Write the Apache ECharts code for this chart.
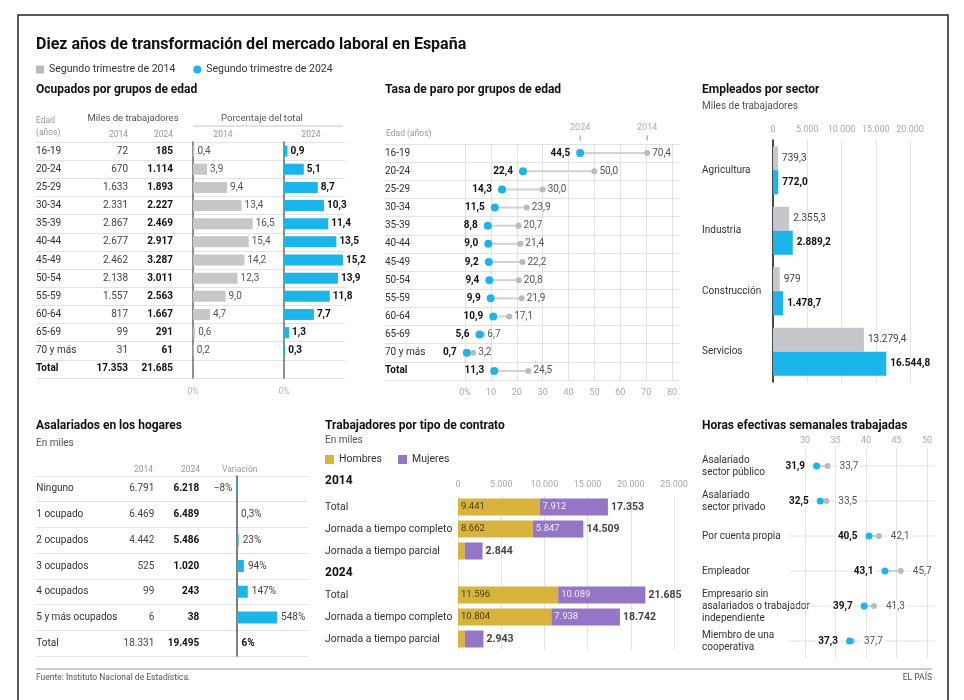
<!DOCTYPE html>
<html><head><meta charset="utf-8">
<script src="https://cdn.jsdelivr.net/npm/echarts@6/dist/echarts.min.js"></script>
<style>html,body{margin:0;padding:0;background:#fff}#c{width:964px;height:700px}</style>
</head><body><div id="c"></div>
<script>
// ---------- DATA ----------
const ageGroups = ['16-19','20-24','25-29','30-34','35-39','40-44','45-49','50-54','55-59','60-64','65-69','70 y más','Total'];
const ocupados2014 = [72,670,1633,2331,2867,2677,2462,2138,1557,817,99,31,17353];
const ocupados2024 = [185,1114,1893,2227,2469,2917,3287,3011,2563,1667,291,61,21685];
const pct2014 = [0.4,3.9,9.4,13.4,16.5,15.4,14.2,12.3,9.0,4.7,0.6,0.2,null];
const pct2024 = [0.9,5.1,8.7,10.3,11.4,13.5,15.2,13.9,11.8,7.7,1.3,0.3,null];
const paro2014 = [70.4,50.0,30.0,23.9,20.7,21.4,22.2,20.8,21.9,17.1,6.7,3.2,24.5];
const paro2024 = [44.5,22.4,14.3,11.5,8.8,9.0,9.2,9.4,9.9,10.9,5.6,0.7,11.3];
const yearLabels = ['2024','2014'];
const sectors = ['Agricultura','Industria','Construcción','Servicios'];
const sector2014 = [739.3,2355.3,979,13279.4];
const sector2024 = [772.0,2889.2,1478.7,16544.8];
const hogarCats = ['Ninguno','1 ocupado','2 ocupados','3 ocupados','4 ocupados','5 y más ocupados','Total'];
const hogar2014 = [6791,6469,4442,525,99,6,18331];
const hogar2024 = [6218,6489,5486,1020,243,38,19495];
const hogarVar = [-8,0.3,23,94,147,548,6];
const contratoRows = ['Total','Jornada a tiempo completo','Jornada a tiempo parcial','2024','Total','Jornada a tiempo completo','Jornada a tiempo parcial'];
const hombres = [9441,8662,779,null,11596,10804,792];
const mujeres = [7912,5847,2065,null,10089,7938,2151];
const horasCats = ['Asalariado\nsector público','Asalariado\nsector privado','Por cuenta propia','Empleador','Empresario sin\nasalariados o trabajador\nindependiente','Miembro de una\ncooperativa'];
const horas2014 = [33.7,33.5,42.1,45.7,41.3,37.7];
const horas2024 = [31.9,32.5,40.5,43.1,39.7,37.3];
const N14 = 'Segundo trimestre de 2014', N24 = 'Segundo trimestre de 2024';

// ---------- STYLE ----------
const F = 'Roboto, "Noto Sans", sans-serif';
const BLUE = '#1cb5e9', GRAY = '#c5c7cb', DOT14 = '#b9bbbf', YEL = '#d8b43c', PUR = '#9575c6';
const GRID_C = '#e3e3e3';

function fmt(v, dec) {
  dec = dec || 0;
  const neg = v < 0;
  let s = Math.abs(v).toFixed(dec);
  let parts = s.split('.');
  let i = parts[0].replace(/\B(?=(\d{3})+(?!\d))/g, '.');
  return (neg ? '−' : '') + i + (parts[1] ? ',' + parts[1] : '');
}

const grids = [], xA = [], yA = [], S = [];
const add = (arr, o) => (arr.push(o), arr.length - 1);

function valX(gi, min, max, o) {
  return Object.assign({gridIndex: gi, type: 'value', min, max, axisLine: {show: false}, axisTick: {show: false}, splitLine: {show: false}, axisLabel: {show: false}}, o || {});
}
function catY(gi, n, o) {
  return Object.assign({gridIndex: gi, type: 'category', inverse: true, data: Array.from({length: n}, (_, i) => 'r' + i),
    axisLine: {show: false, onZero: false}, axisTick: {show: false}, splitLine: {show: false}, axisLabel: {show: false}}, o || {});
}
function textY(gi, texts, margin, align, o) {
  o = o || {};
  const fs = o.fontSize || 10;
  return catY(gi, texts.length, {position: 'left', axisLabel: {show: true, interval: 0, margin, align, fontFamily: F, fontSize: fs,
    color: o.color || '#333', fontWeight: o.weight || 'normal', lineHeight: o.lineHeight || fs + 2,
    formatter: (v, i) => (o.bold && o.bold.includes(i)) ? '{b|' + texts[i] + '}' : texts[i],
    rich: {b: {fontWeight: 'bold', color: '#111', fontFamily: F, fontSize: o.boldSize || fs}}}});
}
function bgGrid(left, top, width, height, n) {
  const g = add(grids, {left, top, width, height});
  add(xA, valX(g, 0, 1));
  add(yA, catY(g, n, {splitLine: {show: true, lineStyle: {color: GRID_C, width: 1}}}));
}
const lbl = (o) => Object.assign({show: true, fontFamily: F, fontSize: 10}, o);

// ---------- PANEL 1: Ocupados por grupos de edad ----------
bgGrid(36, 142, 309, 236, 13);
const p1a = add(grids, {left: 193, top: 142, width: 72.4, height: 236});
const p1aX = add(xA, valX(p1a, 0, 20, {interval: 5, axisLabel: {show: true, formatter: v => v === 0 ? '0%' : '', color: '#b3b3b3', fontSize: 8.5, fontFamily: F, margin: 9}}));
const p1aY = add(yA, catY(p1a, 13, {axisLine: {show: true, onZero: false, lineStyle: {color: '#6a6a6a', width: 1.5}}}));
add(yA, textY(p1a, ageGroups, 157, 'left', {bold: [12]}));
add(yA, textY(p1a, ocupados2014.map(v => fmt(v)), 65, 'right', {color: '#444', bold: [12]}));
add(yA, textY(p1a, ocupados2024.map(v => fmt(v)), 20, 'right', {color: '#111', weight: 'bold'}));
S.push({type: 'bar', xAxisIndex: p1aX, yAxisIndex: p1aY, data: pct2014, barWidth: 11, itemStyle: {color: GRAY},
  label: lbl({position: 'right', distance: 3, color: '#555', formatter: p => fmt(p.value, 1)})});

const p1b = add(grids, {left: 284, top: 142, width: 77.6, height: 236});
const p1bX = add(xA, valX(p1b, 0, 20, {interval: 5, axisLabel: {show: true, formatter: v => v === 0 ? '0%' : '', color: '#b3b3b3', fontSize: 8.5, fontFamily: F, margin: 9}}));
const p1bY = add(yA, catY(p1b, 13, {axisLine: {show: true, onZero: false, lineStyle: {color: '#6a6a6a', width: 1.5}}}));
S.push({type: 'bar', xAxisIndex: p1bX, yAxisIndex: p1bY, data: pct2024, barWidth: 11, itemStyle: {color: BLUE},
  label: lbl({position: 'right', distance: 3, color: '#111', fontWeight: 'bold', formatter: p => fmt(p.value, 1)})});

// ---------- PANEL 2: Tasa de paro ----------
bgGrid(385, 144, 295, 236, 13);
const p2 = add(grids, {left: 465, top: 144, width: 207, height: 236});
const p2X = add(xA, valX(p2, 0, 80, {interval: 10, splitLine: {show: true, lineStyle: {color: GRID_C}},
  axisLabel: {show: true, formatter: v => v === 0 ? '0%' : String(v), color: '#aaa', fontSize: 9, fontFamily: F, margin: 8}}));
const p2Y = add(yA, textY(p2, ageGroups, 80, 'left', {bold: [12]}));
S.push({type: 'custom', xAxisIndex: p2X, yAxisIndex: p2Y, z: 2, silent: true,
  data: ageGroups.map((c, i) => [paro2024[i], paro2014[i], i]), encode: {x: [0, 1], y: 2},
  renderItem: (params, api) => {
    const i = api.value(2);
    const p = api.coord([api.value(0), i]), q = api.coord([api.value(1), i]);
    return {type: 'line', shape: {x1: p[0], y1: p[1], x2: q[0], y2: q[1]}, style: {stroke: '#d2d2d2', lineWidth: 2}};
  }});
S.push({name: N14, type: 'scatter', xAxisIndex: p2X, yAxisIndex: p2Y, z: 3, symbolSize: 6, itemStyle: {color: DOT14, opacity: 1},
  data: paro2014.map((v, i) => [v, i]), label: lbl({position: 'right', distance: 2, color: '#555', formatter: p => fmt(p.value[0], 1)})});
S.push({name: N24, type: 'scatter', xAxisIndex: p2X, yAxisIndex: p2Y, z: 4, symbolSize: 8, itemStyle: {color: BLUE, opacity: 1},
  data: paro2024.map((v, i) => [v, i]), label: lbl({position: 'left', distance: 6, color: '#111', fontWeight: 'bold', formatter: p => fmt(p.value[0], 1)})});
S.push({type: 'scatter', xAxisIndex: p2X, yAxisIndex: p2Y, z: 1, silent: true, symbol: 'rect', symbolSize: [1, 5], symbolOffset: [0, -15],
  itemStyle: {color: '#777'}, data: [[paro2024[0], 0], [paro2014[0], 0]],
  label: lbl({position: 'top', distance: 3, color: '#999', fontSize: 9, formatter: p => yearLabels[p.dataIndex]})});

// ---------- PANEL 3: Empleados por sector ----------
const p3 = add(grids, {left: 773, top: 140, width: 137, height: 242});
const p3X = add(xA, valX(p3, 0, 20000, {position: 'top', interval: 5000, splitLine: {show: true, lineStyle: {color: GRID_C}},
  axisLabel: {show: true, formatter: v => fmt(v), color: '#aaa', fontSize: 9, fontFamily: F, margin: 6}}));
const p3Y = add(yA, textY(p3, sectors, 71, 'left', {}));
yA[p3Y].axisLine = {show: true, onZero: false, lineStyle: {color: '#111', width: 1.5}};
S.push({name: N14, type: 'bar', xAxisIndex: p3X, yAxisIndex: p3Y, data: sector2014, barWidth: 24, barGap: '0%', itemStyle: {color: GRAY},
  label: lbl({position: 'right', distance: 4, color: '#444', formatter: p => fmt(p.value, p.value % 1 ? 1 : 0)})});
S.push({name: N24, type: 'bar', xAxisIndex: p3X, yAxisIndex: p3Y, data: sector2024, barWidth: 24, barGap: '0%', itemStyle: {color: BLUE},
  label: lbl({position: 'right', distance: 4, color: '#111', fontWeight: 'bold', formatter: p => fmt(p.value, 1)})});

// ---------- PANEL 4: Asalariados en los hogares ----------
bgGrid(36, 476, 272, 180, 7);
const p4 = add(grids, {left: 236.3, top: 476, width: 44.6, height: 180});
const p4X = add(xA, valX(p4, -10, 600));
const p4Y = add(yA, catY(p4, 7, {axisLine: {show: true, onZero: false, lineStyle: {color: '#555', width: 1.5}}}));
add(yA, textY(p4, hogarCats, 200, 'left'));
add(yA, textY(p4, hogar2014.map(v => fmt(v)), 82, 'right', {color: '#444'}));
add(yA, textY(p4, hogar2024.map(v => fmt(v)), 37, 'right', {color: '#111', weight: 'bold'}));
S.push({type: 'bar', xAxisIndex: p4X, yAxisIndex: p4Y, barWidth: 12, itemStyle: {color: BLUE},
  data: hogarVar.map((v, i) => ({value: v, label: {position: v < 0 ? 'left' : 'right', fontWeight: i === hogarVar.length - 1 ? 'bold' : 'normal', color: i === hogarVar.length - 1 ? '#111' : '#444'}})),
  label: lbl({distance: 4, formatter: p => fmt(p.value, p.value % 1 ? 1 : 0) + '%'})});

// ---------- PANEL 5: Trabajadores por tipo de contrato ----------
const p5 = add(grids, {left: 458, top: 496, width: 216, height: 154});
const p5X = add(xA, valX(p5, 0, 25000, {position: 'top', interval: 5000, splitLine: {show: true, lineStyle: {color: GRID_C}},
  axisLabel: {show: true, formatter: v => fmt(v), color: '#aaa', fontSize: 9, fontFamily: F, margin: 7}}));
const p5Y = add(yA, textY(p5, contratoRows, 133, 'left', {fontSize: 10.4, bold: [3], boldSize: 12}));
S.push({name: 'Hombres', type: 'bar', stack: 'c', xAxisIndex: p5X, yAxisIndex: p5Y, data: hombres, barWidth: 17, itemStyle: {color: YEL},
  label: lbl({position: 'insideLeft', distance: 3, fontSize: 9.5, color: '#4a3f12', formatter: p => p.value > 3000 ? fmt(p.value) : ''})});
S.push({name: 'Mujeres', type: 'bar', stack: 'c', xAxisIndex: p5X, yAxisIndex: p5Y, data: mujeres, barWidth: 17, itemStyle: {color: PUR},
  label: lbl({position: 'insideLeft', distance: 3, fontSize: 9.5, color: '#f1ecf8', formatter: p => p.value > 3000 ? fmt(p.value) : ''})});
S.push({type: 'scatter', xAxisIndex: p5X, yAxisIndex: p5Y, silent: true, symbolSize: 0.1, itemStyle: {color: 'rgba(0,0,0,0)'},
  data: hombres.map((h, i) => h == null ? null : [h + mujeres[i], i]).filter(d => d),
  label: lbl({position: 'right', distance: 3, color: '#111', fontWeight: 'bold', fontSize: 10.5, formatter: p => fmt(p.value[0])})});

// ---------- PANEL 6: Horas efectivas ----------
const p6 = add(grids, {left: 774.5, top: 448.5, width: 152.5, height: 210});
const p6X = add(xA, valX(p6, 25, 50, {position: 'top', interval: 5, splitLine: {show: true, showMinLine: false, lineStyle: {color: GRID_C}},
  axisLabel: {show: true, formatter: v => v === 25 ? '' : String(v), color: '#aaa', fontSize: 9, fontFamily: F, margin: 3}}));
const p6Y = add(yA, textY(p6, horasCats, 72.5, 'left', {lineHeight: 12}));
S.push({type: 'custom', xAxisIndex: p6X, yAxisIndex: p6Y, z: 2, silent: true,
  data: horasCats.map((c, i) => [horas2024[i], horas2014[i], i]), encode: {x: [0, 1], y: 2},
  renderItem: (params, api) => {
    const i = api.value(2);
    const a = api.coord([25, i]), b = api.coord([50, i]);
    const p = api.coord([api.value(0), i]), q = api.coord([api.value(1), i]);
    return {type: 'group', children: [
      {type: 'line', shape: {x1: a[0] + 15, y1: a[1], x2: b[0] + 8, y2: b[1]}, style: {stroke: '#e2e2e2', lineWidth: 1}},
      {type: 'line', shape: {x1: p[0], y1: p[1], x2: q[0], y2: q[1]}, style: {stroke: '#cfcfcf', lineWidth: 2}}
    ]};
  }});
S.push({name: N14, type: 'scatter', xAxisIndex: p6X, yAxisIndex: p6Y, z: 3, symbolSize: 6, itemStyle: {color: DOT14, opacity: 1},
  data: horas2014.map((v, i) => [v, i]),
  label: lbl({position: 'right', distance: 7, color: '#555', backgroundColor: '#fff', padding: [0, 2], formatter: p => fmt(p.value[0], 1)})});
S.push({name: N24, type: 'scatter', xAxisIndex: p6X, yAxisIndex: p6Y, z: 4, symbolSize: 7, itemStyle: {color: BLUE, opacity: 1},
  data: horas2024.map((v, i) => [v, i]),
  label: lbl({position: 'left', distance: 6, color: '#111', fontWeight: 'bold', backgroundColor: '#fff', padding: [0, 2], formatter: p => fmt(p.value[0], 1)})});

// ---------- GRAPHIC TEXTS ----------
function T(text, x, y, size, weight, fill, align) {
  return {type: 'text', x, y, silent: true, style: {text, fontSize: size, fontWeight: weight, fontFamily: F, fill, align: align || 'left', verticalAlign: 'middle'}};
}
const graphic = [
  {type: 'rect', silent: true, shape: {x: 18, y: 15, width: 930, height: 700}, style: {fill: 'none', stroke: '#222', lineWidth: 1.5}},
  T('Diez años de transformación del mercado laboral en España', 36, 45, 16, 'bold', '#111'),
  T('Ocupados por grupos de edad', 36, 90, 12, 'bold', '#111'),
  T('Edad', 36, 121, 8.5, 'normal', '#9a9a9a'),
  T('(años)', 36, 133, 8.5, 'normal', '#9a9a9a'),
  T('Miles de trabajadores', 133, 119, 9.5, 'normal', '#555', 'center'),
  T('2014', 128, 135, 8.5, 'normal', '#9a9a9a', 'right'),
  T('2024', 173, 135, 8.5, 'normal', '#9a9a9a', 'right'),
  T('Porcentaje del total', 262, 119, 9.5, 'normal', '#555', 'center'),
  {type: 'line', silent: true, shape: {x1: 193, y1: 126, x2: 343, y2: 126}, style: {stroke: '#c8c8c8', lineWidth: 1}},
  T('2014', 223, 135, 8.5, 'normal', '#9a9a9a', 'center'),
  T('2024', 311, 135, 8.5, 'normal', '#9a9a9a', 'center'),
  T('Tasa de paro por grupos de edad', 385, 90, 12, 'bold', '#111'),
  T('Edad (años)', 386, 134, 8.5, 'normal', '#9a9a9a'),
  T('Empleados por sector', 702, 90, 12, 'bold', '#111'),
  T('Miles de trabajadores', 702, 106, 10, 'normal', '#555'),
  T('Asalariados en los hogares', 36, 426, 12, 'bold', '#111'),
  T('En miles', 36, 443, 10, 'normal', '#555'),
  T('2014', 153, 470, 8.5, 'normal', '#9a9a9a', 'right'),
  T('2024', 200, 470, 8.5, 'normal', '#9a9a9a', 'right'),
  T('Variación', 222, 470, 8.5, 'normal', '#9a9a9a'),
  T('Trabajadores por tipo de contrato', 325, 426, 12, 'bold', '#111'),
  T('En miles', 325, 440, 10, 'normal', '#555'),
  T('2014', 325, 481, 12, 'bold', '#111'),
  T('Horas efectivas semanales trabajadas', 702, 426, 12, 'bold', '#111'),
  {type: 'line', silent: true, shape: {x1: 36, y1: 669, x2: 932, y2: 669}, style: {stroke: '#999', lineWidth: 1}},
  T('Fuente: Instituto Nacional de Estadística.', 36, 678, 8.5, 'normal', '#555'),
  T('EL PAÍS', 932, 678, 8.5, 'normal', '#555', 'right')
];

const chart = echarts.init(document.getElementById('c'), null, {renderer: 'canvas'});
chart.setOption({
  animation: false,
  backgroundColor: '#fff',
  textStyle: {fontFamily: F},
  legend: [
    {data: [{name: N14, icon: 'rect'}, {name: N24, icon: 'circle'}], left: 36, top: 64, itemWidth: 8, itemHeight: 8, itemGap: 18, padding: 0,
      selectedMode: false, textStyle: {fontSize: 10.5, color: '#333', fontFamily: F}},
    {data: [{name: 'Hombres', icon: 'rect'}, {name: 'Mujeres', icon: 'rect'}], left: 325, top: 454, itemWidth: 9, itemHeight: 9, itemGap: 16, padding: 0,
      selectedMode: false, textStyle: {fontSize: 10.5, color: '#333', fontFamily: F}}
  ],
  grid: grids, xAxis: xA, yAxis: yA, series: S, graphic
});
</script></body></html>
